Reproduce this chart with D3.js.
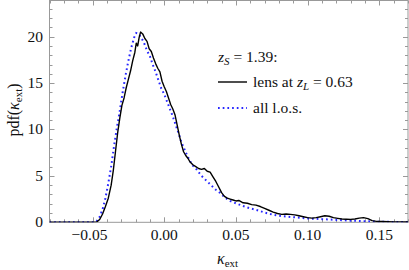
<!DOCTYPE html>
<html><head><meta charset="utf-8">
<script src="https://cdn.jsdelivr.net/npm/d3@7"></script>
<style>
html,body{margin:0;padding:0;background:#fff;}
svg{display:block;}
text{font-family:"Liberation Serif","Times New Roman",serif;fill:#111;}
</style></head>
<body>
<svg id="c" width="409" height="270"></svg>
<script>
// lens at z_L = 0.63 (black solid)
const lensK = [-0.08,-0.05,-0.047,-0.045,-0.043,-0.041,-0.039,-0.037,-0.0355,-0.034,-0.0325,-0.031,-0.0295,-0.028,-0.0265,-0.025,-0.0235,-0.022,-0.0205,-0.0195,-0.0185,-0.0175,-0.0165,-0.015,-0.0135,-0.012,-0.0105,-0.009,-0.0075,-0.006,-0.0045,-0.003,-0.0015,0.000,0.0015,0.003,0.0045,0.006,0.0075,0.009,0.0105,0.012,0.0135,0.015,0.0165,0.018,0.020,0.022,0.024,0.026,0.028,0.030,0.032,0.034,0.036,0.038,0.040,0.042,0.044,0.046,0.048,0.050,0.052,0.055,0.058,0.061,0.064,0.067,0.070,0.073,0.076,0.079,0.082,0.085,0.088,0.091,0.094,0.097,0.100,0.103,0.106,0.109,0.112,0.115,0.118,0.121,0.124,0.127,0.130,0.133,0.136,0.139,0.142,0.145,0.148,0.152,0.16,0.17];
const lensPdf = [0,0,0.05,0.3,0.9,1.7,2.6,4.0,5.6,7.6,9.6,11.2,12.6,13.4,14.5,15.4,16.3,17.4,18.3,19.3,19.0,19.9,20.5,20.3,19.8,19.5,18.7,18.4,17.7,17.1,16.6,16.2,15.2,14.6,14.1,13.4,12.7,12.2,11.6,10.5,9.4,8.4,7.6,7.2,6.9,6.5,6.2,6.0,5.8,5.7,5.8,5.5,5.4,4.9,4.4,3.8,3.2,2.8,2.6,2.5,2.4,2.3,2.35,2.1,2.05,1.9,1.85,1.7,1.5,1.3,1.1,0.95,0.85,0.9,0.85,0.8,0.7,0.6,0.5,0.45,0.5,0.6,0.7,0.65,0.5,0.42,0.35,0.33,0.32,0.35,0.45,0.5,0.4,0.18,0.1,0.08,0.05,0.05];
// all l.o.s. (blue dotted)
const allK = [-0.08,-0.049,-0.047,-0.045,-0.043,-0.041,-0.039,-0.037,-0.035,-0.033,-0.031,-0.029,-0.027,-0.025,-0.023,-0.021,-0.0195,-0.018,-0.016,-0.014,-0.012,-0.010,-0.008,-0.006,-0.004,-0.002,0.000,0.002,0.004,0.006,0.008,0.010,0.012,0.014,0.016,0.018,0.020,0.022,0.024,0.026,0.028,0.030,0.032,0.034,0.036,0.038,0.040,0.043,0.046,0.050,0.055,0.060,0.065,0.070,0.075,0.080,0.085,0.090,0.095,0.100,0.105,0.110,0.115,0.120,0.125,0.130,0.135,0.140,0.145,0.150,0.160,0.170];
const allPdf = [0,0,0.15,0.6,1.4,2.6,4.2,6.0,8.2,10.2,12.0,14.0,15.8,17.4,18.8,19.9,20.4,20.3,19.9,19.3,18.5,17.9,17.0,16.2,15.3,14.4,13.8,13.0,12.2,11.4,10.5,9.6,8.6,7.9,7.2,6.6,6.1,5.8,5.4,5.0,4.7,4.4,4.1,3.8,3.5,3.3,3.0,2.6,2.3,2.05,1.75,1.5,1.3,1.05,0.85,0.7,0.62,0.55,0.48,0.42,0.38,0.34,0.3,0.26,0.22,0.18,0.15,0.12,0.09,0.06,0.04,0.03];
const xTicks = [-0.05,0.00,0.05,0.10,0.15];
const xTickLabels = ["\u22120.05","0.00","0.05","0.10","0.15"];
const yTicks = [0,5,10,15,20];

const svg = d3.select("#c");
const L = 49.5, R = 408, T = 0.5, B = 222.3;
const x = d3.scaleLinear().domain([-0.08,0.17]).range([L,R]);
const y = d3.scaleLinear().domain([0,23.9]).range([B,T]);
const frameCol = "#999";
const blue = "#2626ff";

const clipId = "pc";
svg.append("clipPath").attr("id",clipId).append("rect").attr("x",L).attr("y",T).attr("width",R-L).attr("height",B-T);

// ticks
const xMinor = d3.range(-80,171,10).map(v=>v/1000);
const yMinor = d3.range(0,24,1);
const tg = svg.append("g").attr("stroke",frameCol).attr("stroke-width",1);
xMinor.forEach(v=>{
  const major = xTicks.some(t=>Math.abs(t-v)<1e-9);
  const len = major?5:3;
  const px = Math.round(x(v))+0.5;
  tg.append("line").attr("x1",px).attr("x2",px).attr("y1",B).attr("y2",B-len);
  tg.append("line").attr("x1",px).attr("x2",px).attr("y1",T).attr("y2",T+len);
});
yMinor.forEach(v=>{
  const major = yTicks.includes(v);
  const len = major?5:3;
  const py = Math.round(y(v))+0.5;
  tg.append("line").attr("x1",L).attr("x2",L+len).attr("y1",py).attr("y2",py);
  tg.append("line").attr("x1",R).attr("x2",R-len).attr("y1",py).attr("y2",py);
});

// frame
svg.append("rect").attr("x",L).attr("y",T).attr("width",R-L).attr("height",B-T)
  .attr("fill","none").attr("stroke",frameCol).attr("stroke-width",1);

// tick labels
xTicks.forEach((v,i)=>{
  svg.append("text").attr("x",x(v)-(v<0?3:0)).attr("y",240).attr("text-anchor","middle")
    .attr("font-size",15.5).text(xTickLabels[i]);
});
yTicks.forEach(v=>{
  svg.append("text").attr("x",43).attr("y",y(v)+5).attr("text-anchor","end")
    .attr("font-size",15.5).text(v);
});

// curves
const line = d3.line().x(d=>x(d[0])).y(d=>y(d[1]));
const pg = svg.append("g").attr("clip-path",`url(#${clipId})`);
pg.append("path").datum(allK.map((k,i)=>[k,allPdf[i]]))
  .attr("d",line).attr("fill","none").attr("stroke",blue).attr("stroke-width",2)
  .attr("stroke-dasharray","1.7,3");
pg.append("path").datum(lensK.map((k,i)=>[k,lensPdf[i]]))
  .attr("d",line).attr("fill","none").attr("stroke","#000").attr("stroke-width",1.4)
  .attr("stroke-linejoin","round");

// legend
const lg = svg.append("g");
const t1 = lg.append("text").attr("x",218).attr("y",62).attr("font-size",15.5);
t1.append("tspan").attr("font-style","italic").text("z");
t1.append("tspan").attr("font-style","italic").attr("font-size",11).attr("dy",3).text("S");
t1.append("tspan").attr("dy",-3).text(" = 1.39:");
lg.append("line").attr("x1",218).attr("x2",247).attr("y1",82).attr("y2",82).attr("stroke","#000").attr("stroke-width",1.4);
const t2 = lg.append("text").attr("x",253).attr("y",87).attr("font-size",15.5);
t2.append("tspan").text("lens at ");
t2.append("tspan").attr("font-style","italic").text("z");
t2.append("tspan").attr("font-style","italic").attr("font-size",11).attr("dy",3).text("L");
t2.append("tspan").attr("dy",-3).text(" = 0.63");
lg.append("line").attr("x1",218).attr("x2",247).attr("y1",108).attr("y2",108).attr("stroke",blue).attr("stroke-width",2).attr("stroke-dasharray","1.7,3");
lg.append("text").attr("x",253).attr("y",113).attr("font-size",15.5).text("all l.o.s.");

// axis titles
const xl = svg.append("text").attr("x",217).attr("y",264).attr("font-size",16);
xl.append("tspan").attr("font-style","italic").text("\u03ba");
xl.append("tspan").attr("font-size",11).attr("dy",3).text("ext");

const yl = svg.append("text").attr("transform","translate(19,110) rotate(-90)").attr("text-anchor","middle").attr("font-size",16);
yl.append("tspan").text("pdf(");
yl.append("tspan").attr("font-style","italic").text("\u03ba");
yl.append("tspan").attr("font-size",11).attr("dy",3).text("ext");
yl.append("tspan").attr("dy",-3).text(")");
</script>
</body></html>
